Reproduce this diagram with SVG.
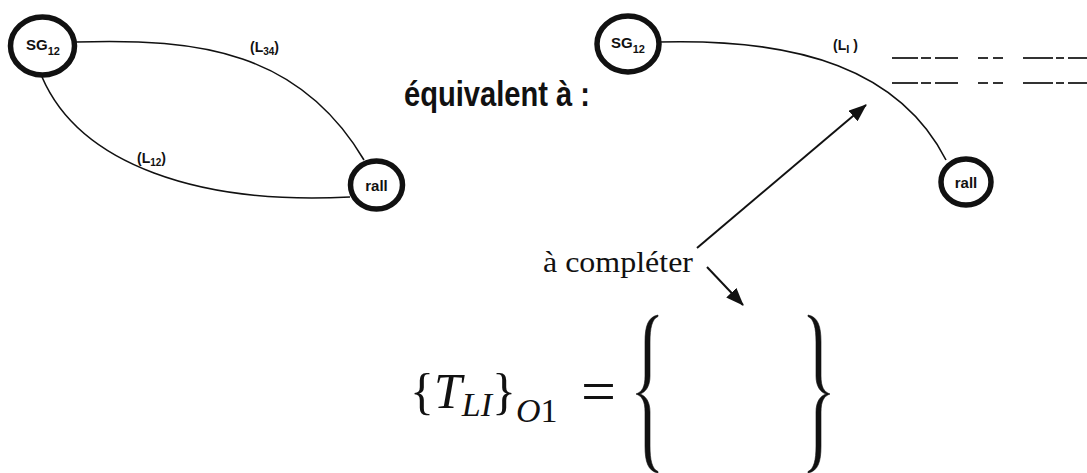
<svg xmlns="http://www.w3.org/2000/svg" width="1087" height="473" viewBox="0 0 1087 473">
<style>
.node{fill:#fff;stroke:#111;stroke-width:5.5}
.edge{fill:none;stroke:#111;stroke-width:1.6}
.arrow{fill:none;stroke:#111;stroke-width:2}
.lbl{font-family:"Liberation Sans",Arial,sans-serif;font-weight:bold;fill:#111}
.nlbl{font-family:"Liberation Sans",Arial,sans-serif;font-weight:bold;fill:#111;text-anchor:middle}
.dash{stroke:#333;stroke-width:2}
.math{font-family:"Liberation Serif","Times New Roman",serif;fill:#111}
.brace{fill:#111;stroke:#111;stroke-width:0.6;stroke-linejoin:round}
</style>
<defs>
<marker id="ahb" viewBox="0 0 18 14" refX="17" refY="7" markerWidth="18" markerHeight="14" markerUnits="userSpaceOnUse" orient="auto">
<path d="M0,0 L18,7 L0,14 z" fill="#111"/>
</marker>
<path id="brace" d="M658,315 C648,317 645,326 645,342 L645,376 C645,387 642,392 636,394 C642,396 645,401 645,412 L645,446 C645,462 648,471 658,473 L658,471.5 C652,469 650,460 650,446 L650,412 C650,402 646,396 640,394 C646,392 650,386 650,376 L650,342 C650,328 652,319 658,316.5 Z"/>
</defs>
<g id="connectors">
<path class="edge" d="M76,42 C200,38 300,52 364,160"/>
<path class="edge" d="M42,77 C80,165 200,205 350,197"/>
<path class="edge" d="M658,42 C800,38 900,70 946,160"/>
<path class="arrow" d="M697,248 L866,105" marker-end="url(#ahb)"/>
<path class="arrow" d="M707,267 L743,305" marker-end="url(#ahb)"/>
</g>
<g id="edge-labels">
<text class="lbl" x="250" y="52" font-size="14">(L<tspan font-size="10" dy="3">34</tspan><tspan dy="-3">)</tspan></text>
<text class="lbl" x="137" y="163" font-size="14">(L<tspan font-size="10" dy="3">12</tspan><tspan dy="-3">)</tspan></text>
<text class="lbl" x="833" y="50" font-size="14">(L<tspan font-size="11" dy="3">I</tspan><tspan dy="-3"> )</tspan></text>
</g>
<g id="node-sg12-left">
<ellipse class="node" cx="42.5" cy="46" rx="32" ry="29"/>
<text class="nlbl" x="43" y="50" font-size="15">SG<tspan font-size="11" dy="5">12</tspan></text>
</g>
<g id="node-rall-left">
<ellipse class="node" cx="376.5" cy="185" rx="26" ry="24"/>
<text class="nlbl" x="376.5" y="191" font-size="15">rall</text>
</g>
<g id="node-sg12-right">
<ellipse class="node" cx="628" cy="44" rx="31" ry="28"/>
<text class="nlbl" x="628" y="48" font-size="15">SG<tspan font-size="11" dy="5">12</tspan></text>
</g>
<g id="node-rall-right">
<ellipse class="node" cx="966" cy="182" rx="25" ry="23"/>
<text class="nlbl" x="966" y="188" font-size="15">rall</text>
</g>
<g id="title">
<text class="lbl" x="404" y="106" font-size="35" textLength="186" lengthAdjust="spacingAndGlyphs">équivalent à :</text>
</g>
<g id="dashes">
<path class="dash" d="M892,58 H918 M921,58 H931 M935,58 H958 M978,58 H988 M993,58 H1003 M1023,58 H1053 M1056,58 H1064 M1068,58 H1087"/>
<path class="dash" d="M892,83 H918 M921,83 H931 M935,83 H958 M978,83 H988 M993,83 H1003 M1023,83 H1053 M1056,83 H1064 M1068,83 H1087"/>
</g>
<g id="note">
<text class="math" x="543" y="272" font-size="30" textLength="150" lengthAdjust="spacingAndGlyphs">à compléter</text>
</g>
<g id="formula">
<text class="math" x="410" y="408" font-size="50">{<tspan font-style="italic">T</tspan><tspan font-style="italic" font-size="34" dy="8">LI</tspan><tspan dy="-8">}</tspan><tspan font-size="34" dy="14"><tspan font-style="italic">O</tspan>1</tspan></text>
<text class="math" x="581" y="412" font-size="62">=</text>
<use href="#brace" class="brace"/>
<use href="#brace" class="brace" transform="translate(1466,0) scale(-1,1)"/>
</g>
</svg>
